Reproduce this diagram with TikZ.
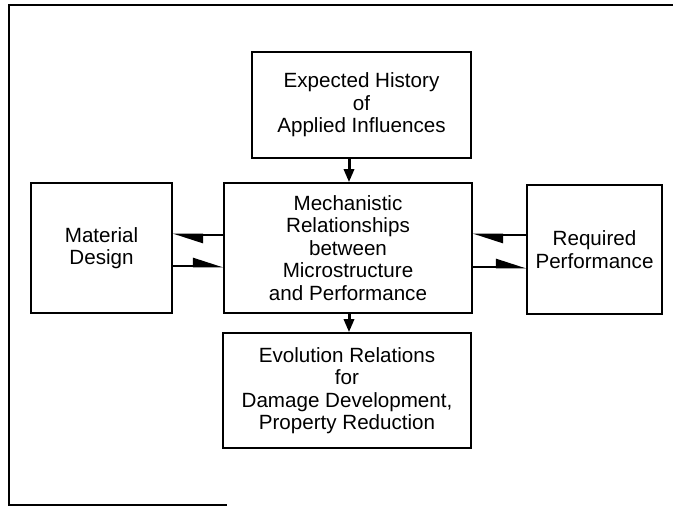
\documentclass[tikz,border=0pt]{standalone}
\usepackage{fontspec}
\setmainfont{Liberation Sans}
\usetikzlibrary{arrows.meta}
\tikzset{
  boxnode/.style={draw, line width=1.6pt, align=center, inner sep=0pt,
    font=\fontsize{20.6}{22.5}\selectfont},
  harp/.style={line width=2.6pt, -{Triangle[harpoon,length=26pt,width=16pt]}},
  vert/.style={line width=3pt, -{Triangle[length=13pt,width=10pt]}},
  frame/.style={line width=1.6pt}
}
\begin{document}
\begin{tikzpicture}[x=1pt,y=-1pt]
\useasboundingbox (0,0) rectangle (673,507);
\draw[frame] (673,5) -- (9,5) -- (9,505) -- (227,505);

\node[boxnode, minimum width=219pt, minimum height=106pt] (top) at (361.5,105)
  {Expected History\\of\\Applied Influences};
\node[boxnode, minimum width=248pt, minimum height=130pt] (mid) at (348,248)
  {Mechanistic\\Relationships\\between\\Microstructure\\and Performance};
\node[boxnode, minimum width=141pt, minimum height=130pt] (left) at (101.5,248)
  {Material\\Design};
\node[boxnode, minimum width=135pt, minimum height=129pt] (right) at (594.5,249.5)
  {Required\\Performance};
\node[boxnode, minimum width=248pt, minimum height=115pt] (bot) at (347,390.5)
  {Evolution Relations\\for\\Damage Development,\\Property Reduction};

\draw[harp] (mid.west |- 0,235) -- (left.east |- 0,235);
\draw[harp] (left.east |- 0,266) -- (mid.west |- 0,266);
\draw[harp] (right.west |- 0,235) -- (mid.east |- 0,235);
\draw[harp] (mid.east |- 0,267) -- (right.west |- 0,267);

\draw[vert] (top.south -| 349,0) -- (mid.north -| 349,0);
\draw[vert] (mid.south -| 349,0) -- (bot.north -| 349,0);
\end{tikzpicture}
\end{document}
